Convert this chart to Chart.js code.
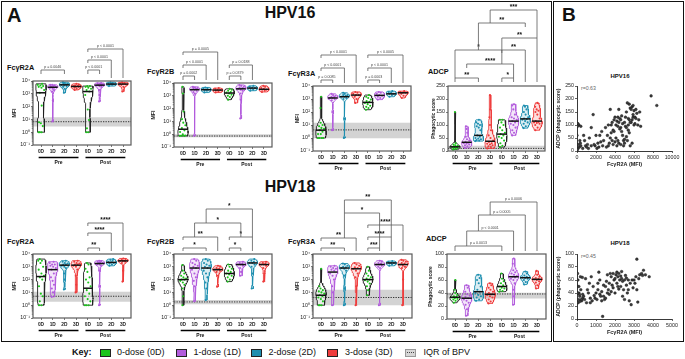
<!DOCTYPE html>
<html><head><meta charset="utf-8">
<script src="https://cdn.jsdelivr.net/npm/chart.js@4.4.0/dist/chart.umd.min.js"></script>
<style>
body{margin:0;width:685px;height:359px;position:relative;background:#fff;overflow:hidden;font-family:'Liberation Sans',Arial,Helvetica,sans-serif;color:#111}
canvas{position:absolute}
.t{position:absolute;line-height:1;white-space:nowrap}
.b{font-weight:bold}
.frame{position:absolute;border:1.5px solid #111;box-sizing:border-box}
.sw{position:absolute;width:11px;height:8px;border:1.3px solid #222;box-sizing:border-box}
</style></head><body>
<div class="frame" style="left:1px;top:1px;width:551px;height:341px"></div>
<div class="frame" style="left:553px;top:1px;width:131px;height:341px"></div>
<div class="t b" style="left:7px;top:5px;font-size:20px">A</div>
<div class="t b" style="left:562px;top:5px;font-size:19px">B</div>
<div class="t b" style="left:240px;top:4.5px;width:100px;text-align:center;font-size:16px">HPV16</div>
<div class="t b" style="left:240px;top:179px;width:100px;text-align:center;font-size:16px">HPV18</div>
<div class="t b" style="left:7px;top:63.5px;font-size:7.3px">FcγR2A</div>
<div class="t b" style="left:147px;top:67.5px;font-size:7.3px">FcγR2B</div>
<div class="t b" style="left:288px;top:69.5px;font-size:7.3px">FcγR3A</div>
<div class="t b" style="left:428px;top:67.5px;font-size:7.3px">ADCP</div>
<div class="t b" style="left:7px;top:237.5px;font-size:7.3px">FcγR2A</div>
<div class="t b" style="left:147px;top:237.5px;font-size:7.3px">FcγR2B</div>
<div class="t b" style="left:288px;top:237.5px;font-size:7.3px">FcγR3A</div>
<div class="t b" style="left:426px;top:234.5px;font-size:7.3px">ADCP</div>
<div class="t b" style="left:590px;top:73px;width:60px;text-align:center;font-size:6px">HPV16</div>
<div class="t b" style="left:590px;top:240px;width:60px;text-align:center;font-size:6px">HPV18</div>
<div class="t" style="left:581px;top:85.5px;font-size:5.2px;color:#666">r=0.63</div>
<div class="t" style="left:581px;top:253.5px;font-size:5.2px;color:#666">r=0.45</div>
<div class="t b" style="left:72px;top:348px;font-size:9px">Key:</div>
<div class="sw" style="left:99.5px;top:348.5px;background:#1bc41b"></div>
<div class="t" style="left:117px;top:348px;font-size:9px">0-dose (0D)</div>
<div class="sw" style="left:176px;top:348.5px;background:#b25cdc"></div>
<div class="t" style="left:193.5px;top:348px;font-size:9px">1-dose (1D)</div>
<div class="sw" style="left:251px;top:348.5px;background:#1e8fb0"></div>
<div class="t" style="left:268.5px;top:348px;font-size:9px">2-dose (2D)</div>
<div class="sw" style="left:326.5px;top:348.5px;background:#ee3b3b"></div>
<div class="t" style="left:345px;top:348px;font-size:9px">3-dose (3D)</div>
<div class="sw" style="left:405px;top:348.5px;background:#d6d6d6;border-color:#999"><div style="position:absolute;left:1px;right:1px;top:2.3px;border-top:1px dotted #444"></div></div>
<div class="t" style="left:423.5px;top:348px;font-size:9px">IQR of BPV</div>

<script>
// ================= DATA =================
const CATS = ['0D','1D','2D','3D','0D','1D','2D','3D'];
const MFI_TICKS = [0.1, 1, 10, 100, 1000, 10000];

// HPV16 - values per group: pre 0D,1D,2D,3D, post 0D,1D,2D,3D
const HPV16_R2A = [
  [1,1,1,3,5,6,120,1200,2000,3000,3500,4000,4500,5000,6000],
  [7,300,1500,2000,2500,3000,3000,3500,3500,4000,4000,4500,5000,5000],
  [1200,2500,3500,4000,4500,5000,5500,6000,6000,7000,8000],
  [2000,2500,3000,3500,3500,4000,4000,4500,5000,6000],
  [1,1,2,9,60,800,1500,2000,2500,3000,3500,4000,4000],
  [250,800,2000,3500,4000,4500,5000,5000,5500,6000,6500,7000],
  [4000,5000,5000,5500,6000,6500,7000,8000],
  [1500,3500,5000,5500,6000,6500,7000,8000]
];
const HPV16_R2A_BPV = [2.8, 6.6, 15];

const HPV16_R2B = [
  [0.75,0.75,0.75,0.8,1,1.5,2,3,5,8,15,60,1500,5000],
  [0.75,1500,2000,2500,3000,3000,3500,4000,4000,4500,5000],
  [1800,2500,2500,3000,3000,3500,4000,4500],
  [1800,2200,2500,2800,3000,3500,4000],
  [500,800,1000,1200,1500,1800,2000,2500,3000,3500],
  [17,500,1500,2500,3000,3500,4000,4500,5000,6000,7000],
  [2500,3000,3500,4000,4500,5000,6000],
  [2000,2500,3000,3000,3500,4000,5000,6000]
];
const HPV16_R2B_BPV = [0.58, 0.72, 1.0];

const HPV16_R3A = [
  [1,1,1,1,2,2,3,4,5,6,8,10,15,200,1500],
  [4,100,800,1000,1200,1200,1500,1500,1800,2000,2500],
  [1,30,1000,1200,1500,1500,1800,2000,2000,2500,3000],
  [500,1000,1500,2000,2000,2500,3000,3500],
  [150,200,250,300,400,500,600,700,900,1200,1500,2000],
  [900,1200,1500,1800,2000,2500,3000,3500],
  [1500,2000,2500,2500,3000,3500,4000],
  [1200,1800,2500,3000,3000,3500,4000]
];
const HPV16_R3A_BPV = [0.95, 4.2, 15];

const HPV16_ADCP = [
  [5,8,10,12,14,15,16,18,20,22,25,30,150],
  [12,18,22,25,28,30,32,35,40,45,55,70,85,95],
  [38,40,42,45,48,50,55,60,80,90,95,100,105,110,120],
  [10,15,18,22,25,28,30,35,40,50,60,80,100,130,160,215],
  [15,20,30,40,50,55,60,65,70,80,90,100,110,120,120],
  [60,70,80,90,100,105,110,115,120,125,130,140,160,175,180],
  [88,95,105,110,115,120,122,125,130,140,150,160,170,175],
  [80,90,100,105,108,110,112,115,125,140,150,155,160,170,185]
];
const HPV16_ADCP_BPV = [5, 10, 20];

// HPV18
const HPV18_R2A = [
  [1,1,2,5,8,30,100,150,200,300,600,1000,2000,3000,3000,4000],
  [4.5,10,20,40,80,150,300,600,800,1000,1200,1500,1500,2000,2500],
  [17,100,300,800,1000,1200,1500,1500,1800,2000,2500,3000],
  [10,40,200,600,1000,1200,1500,1500,1800,2000,2500,3000],
  [1,1,1,2,3,5,8,15,30,60,100,150,400,700,1500,2000],
  [1,30,500,1200,1500,1500,1800,2000,2000,2200,2500,2800,3000],
  [1200,1500,1800,2000,2200,2500,3000,3500,4000],
  [70,500,2000,2500,2800,3000,3000,3500,4000,4500]
];
const HPV18_R2A_BPV = [1.9, 5, 11];

const HPV18_R2B = [
  [1,5,20,40,60,80,100,100,120,150,200,300,500,1400],
  [2,30,80,150,300,600,800,1000,1200,1500,2000,3000,4000],
  [2.5,20,60,150,300,500,800,1000,1200,1500,2000,3000,4000],
  [28,200,400,500,600,600,700,800,1000,1200],
  [70,100,150,200,250,300,400,500,700,1000,1500],
  [200,400,800,1200,1500,1500,1800,2000,2500],
  [20,300,1000,1500,2000,2000,2500,3000,4000],
  [70,300,800,1200,1500,1500,1800,2000,2500]
];
const HPV18_R2B_BPV = [1.2, 1.8, 2.5];

const HPV18_R3A = [
  [1,1,1,2,3,4,5,6,8,10,12,15,20,30,700],
  [1,10,30,100,200,300,500,600,700,800,1000,1200],
  [1,20,200,500,700,800,900,1000,1200,1500,1800],
  [1,30,150,300,500,700,800,900,1200,1500,2000],
  [6,15,30,50,70,90,100,120,150,200,300,500,1000],
  [1,800,1000,1200,1500,1500,1800,2000,2500,3000],
  [1200,1500,1800,2000,2000,2300,2800],
  [1,100,800,1000,1200,1500,1800,2000,2500,3000,3500]
];
const HPV18_R3A_BPV = [1, 4, 16];

const HPV18_ADCP = [
  [25,28,30,31,32,33,34,35,37,40,45,60],
  [5,15,22,25,28,30,32,34,36,38,42,48,52],
  [28,30,33,35,37,40,42,45,50,55,60,63,68],
  [24,27,30,33,35,37,38,40,42,45,48,52,55],
  [42,43,45,47,48,50,52,55,58,62,70],
  [22,35,45,55,60,62,64,65,66,68,70,72,75,85,93],
  [53,57,60,62,63,64,65,67,70,73],
  [47,52,56,58,60,61,62,63,65,68,74]
];
const HPV18_ADCP_BPV = [31.5, 38.5, 40.5];

// Panel B scatter: [FcγR2A MFI, ADCP score]
const HPV16_SCATTER = [
  [100,105],[200,100],[50,95],[300,40],[150,25],[250,15],[100,10],[400,20],[50,5],[350,30],[0,60],
  [400,95],[700,60],[900,20],[1000,15],[1200,10],[800,40],[1100,25],[1300,50],[600,10],[1500,20],
  [1700,140],[1500,90],[1900,20],[2100,10],[2200,30],[2400,60],[2600,75],[2700,20],[2300,15],[2800,40],[2500,35],[2000,60],[1800,25],
  [3000,90],[3200,60],[3300,20],[3400,30],[3500,50],[3500,160],[3600,100],[3700,110],[3800,25],[3900,75],[3100,15],[3700,40],[3300,100],[3800,80],[3900,120],[4000,130],[4000,35],[3600,70],
  [4100,100],[4200,115],[4300,40],[4400,30],[4500,125],[4600,90],[4700,135],[4800,105],[4900,40],[4200,20],[4400,160],[4500,85],[4800,60],[4900,20],[4100,50],[4300,95],[4600,25],[4700,75],[5000,110],[5000,45],[4400,110],[4600,120],[4300,130],
  [5100,95],[5200,150],[5300,185],[5400,125],[5500,180],[5600,165],[5700,110],[5800,170],[5900,140],[5200,55],[5300,40],[5400,100],[5500,120],[5600,20],[5700,160],[5800,120],[5900,175],[6000,155],[5100,130],[5500,70],[5200,90],[5800,30],[5600,110],[5400,80],[5900,130],[5000,30],
  [6100,130],[6200,160],[6300,145],[6400,100],[6500,120],[6600,150],[6100,105],[6700,95],[6200,125],[6000,100],
  [7800,212],[8400,175]
];
const HPV18_SCATTER = [
  [30,70],[50,60],[100,40],[80,30],[150,35],[200,45],[20,50],[250,28],[120,38],[60,25],[300,32],[180,65],[100,50],[40,40],[220,30],[280,64],[150,27],
  [350,35],[400,30],[500,25],[600,40],[700,32],[800,28],[900,36],[450,62],[650,55],[750,65],[550,45],[850,50],[950,32],[1000,40],[300,38],[700,25],
  [1050,30],[1100,45],[1200,38],[1300,42],[1400,35],[1500,50],[1600,40],[1700,55],[1800,65],[1900,48],[1150,72],[1250,35],[1350,4],[1450,30],[1550,58],[1650,45],[1750,70],[1850,52],[1950,60],[1200,60],[1400,52],[1600,68],[1300,28],[1500,32],[1800,42],[1100,55],[1700,38],[1900,70],
  [2000,62],[2050,68],[2100,55],[2150,65],[2200,70],[2250,60],[2300,50],[2350,62],[2400,58],[2450,45],[2500,60],[2550,67],[2600,52],[2650,40],[2700,60],[2750,28],[2800,55],[2850,22],[2900,60],[2950,48],[2100,72],[2200,46],[2300,66],[2400,35],[2500,30],[2600,63],[2700,45],[2000,40],[2150,50],[2350,73],
  [3000,60],[3100,65],[3150,92],[3200,26],[3050,55],[3300,68],[3400,70],[3500,75],[3600,68],[3800,65],[3150,45],[3250,62],[3450,67]
];

// Significance annotations: [from group, to group, label, bracket y, left leg end y, right leg end y] (page px)
const SIG16_R2A = [[0,2,'p = 0.0046',70,74,74],[4,5,'p < 0.0001',70,74,74],[4,6,'p < 0.0001',60,63,78],[4,7,'p < 0.0001',49,52,78]];
const SIG16_R2B = [[0,1,'p = 0.0002',76,80,80],[0,2,'p < 0.0001',65,68,80],[0,3,'p = 0.0005',52,55,80],[4,5,'p = 0.0379',76,80,80],[4,6,'p = 0.0188',65,68,80]];
const SIG16_R3A = [[0,1,'p = 0.0085',80,83,83],[0,2,'p < 0.0001',68,71,83],[0,3,'p < 0.0001',55,58,83],[4,5,'p = 0.0003',80,83,83],[4,6,'p < 0.0001',68,71,83],[4,7,'p < 0.0005',55,58,83]];
const SIG16_ADCP = [[0,2,'**',78,82,82],[4,5,'*',78,82,82],[1,5,'****',64,68,78],[0,4,'*',50,78,64],[4,6,'**',50,53,82],[4,7,'**',38,50,82],[2,6,'**',23,50,27],[3,7,'***',10,23,38]];
const SIG18_R2A = [[4,5,'**',248,251,251],[4,6,'****',233,236,251],[4,7,'****',223,226,251]];
const SIG18_R2B = [[0,2,'*',248,251,251],[0,3,'**',237,240,251],[4,5,'*',248,251,251],[4,6,'*',237,240,251],[1,5,'*',223,237,237],[2,6,'*',209,223,237]];
const SIG18_R3A = [[0,2,'**',248,251,251],[0,3,'**',238,241,251],[4,5,'***',248,251,251],[4,6,'****',237,240,251],[4,7,'****',225,228,251],[2,5,'*',213,238,248],[2,6,'**',200,213,237]];
const SIG18_ADCP = [[0,4,'p = 0.0013',246,251,251],[1,5,'p < 0.0001',231,246,251],[2,6,'p = 0.0005',215,231,251],[3,7,'p = 0.0006',202,215,251]];

// ================= STYLE / LAYOUT =================
const FONT = "'Liberation Sans', Arial, Helvetica, sans-serif";
const DOSE_COLORS = ['#1bc41b','#b25cdc','#1e8fb0','#ee3b3b'];
const SUP = {'-1':'⁻¹','0':'⁰','1':'¹','2':'²','3':'³','4':'⁴'};
const VW = 0.44;
Chart.defaults.font.family = FONT;

function hexA(h,a){const n=parseInt(h.slice(1),16);return `rgba(${n>>16},${(n>>8)&255},${n&255},${a})`;}

function kdeProfile(vals, log, floorH){
  const t = vals.map(v=>log?Math.log10(v):v).sort((a,b)=>a-b);
  const n=t.length, mean=t.reduce((s,x)=>s+x,0)/n;
  const sd=Math.sqrt(t.reduce((s,x)=>s+(x-mean)*(x-mean),0)/Math.max(n-1,1));
  const q=p=>{const i=(n-1)*p,lo=Math.floor(i),hi=Math.ceil(i);return t[lo]+(t[hi]-t[lo])*(i-lo);};
  const iqr=q(0.75)-q(0.25);
  let h=0.9*Math.min(sd, iqr>0?iqr/1.34:sd)*Math.pow(n,-0.2);
  h=Math.max(h,floorH);
  const lo=t[0], hi=t[n-1], N=40, ys=[], ds=[];
  for(let i=0;i<=N;i++){const yy=lo+(hi-lo)*i/N;let d=0;for(const x of t){const z=(yy-x)/h;d+=Math.exp(-0.5*z*z);}ys.push(yy);ds.push(d);}
  const m=Math.max(...ds);
  return {ys, ws:ds.map(d=>d/m), median:q(0.5)};
}
function wAt(p,tv){const n=p.ys.length,lo=p.ys[0],hi=p.ys[n-1];if(hi===lo)return 1;let f=(tv-lo)/(hi-lo)*(n-1);f=Math.max(0,Math.min(n-1,f));const i=Math.floor(f),j=Math.min(n-1,i+1);return p.ws[i]+(p.ws[j]-p.ws[i])*(f-i);}

function makeCanvas(left, top, w, h){
  const cv=document.createElement('canvas');cv.width=w;cv.height=h;
  Object.assign(cv.style,{left:left+'px',top:top+'px',width:w+'px',height:h+'px'});
  document.body.appendChild(cv);return cv;
}

function decoPlugin(cfg){
  return {id:'deco', afterDraw(chart){
    const {ctx, chartArea:a, scales:{x,y}} = chart;
    ctx.save();
    ctx.strokeStyle='#5a5a5a';ctx.lineWidth=1.2;ctx.strokeRect(a.left,a.top,a.right-a.left,a.bottom-a.top);
    if(cfg.log){ctx.strokeStyle='#444';ctx.lineWidth=0.6;ctx.beginPath();
      for(let d=-1;d<4;d++)for(let k=2;k<10;k++){const py=y.getPixelForValue(k*Math.pow(10,d));ctx.moveTo(a.left,py);ctx.lineTo(a.left-1.3,py);}
      ctx.stroke();}
    ctx.strokeStyle='#000';ctx.lineWidth=1.6;ctx.fillStyle='#111';ctx.font=`bold 5px ${FONT}`;ctx.textAlign='center';ctx.textBaseline='middle';
    [[0,3,'Pre'],[4,7,'Post']].forEach(([s,e,txt])=>{const x1=x.getPixelForValue(s-0.2),x2=x.getPixelForValue(e+0.2),ly=a.bottom+12.5;
      ctx.beginPath();ctx.moveTo(x1,ly);ctx.lineTo(x2,ly);ctx.stroke();ctx.fillText(txt,(x1+x2)/2,a.bottom+18);});
    ctx.lineWidth=0.8;ctx.textBaseline='alphabetic';
    cfg.brackets.forEach(([p,q,txt,by,la,lb])=>{
      const xa=x.getPixelForValue(p),xb=x.getPixelForValue(q),Y=by-cfg.top,A=la-cfg.top,B=lb-cfg.top;
      ctx.strokeStyle='#5a5a5a';ctx.beginPath();ctx.moveTo(xa,A);ctx.lineTo(xa,Y);ctx.lineTo(xb,Y);ctx.lineTo(xb,B);ctx.stroke();
      const star=txt.startsWith('*');
      ctx.font=star?`bold 6.5px ${FONT}`:`3.6px ${FONT}`;ctx.fillStyle=star?'#111':'#444';
      ctx.fillText(txt,(xa+xb)/2,star?Y-1.3:Y-1.9);
    });
    ctx.restore();
  }};
}

function violinPanel(data, bpv, L){
  const log=L.log;
  const [l,t,r,b]=L.box;
  const padL=L.padL, padR=4, padT=t-L.canvasTop, padB=24;
  const sp=(L.cat7-L.cat0)/7;
  const xmin=-(L.cat0-l)/sp, xmax=7+(r-L.cat7)/sp;
  const cv=makeCanvas(l-padL, L.canvasTop, r-l+padL+padR, b-t+padT+padB);
  const ds=[];
  ds.push({data:[{x:xmin,y:bpv[2]},{x:xmax,y:bpv[2]}],fill:{value:bpv[0]},backgroundColor:'rgba(150,150,150,0.42)',borderWidth:0,pointRadius:0,order:10});
  ds.push({data:[{x:xmin,y:bpv[1]},{x:xmax,y:bpv[1]}],fill:false,borderColor:'#222',borderWidth:0.9,borderDash:[1.3,1.2],pointRadius:0,order:9});
  data.forEach((vals,g)=>{
    const col=DOSE_COLORS[g%4];
    const zero=(g%4===0);
    const p=kdeProfile(vals,log,log?0.14:L.hFloor);
    const inv=v=>log?Math.pow(10,v):v;
    const poly=[];
    for(let i=0;i<p.ys.length;i++)poly.push({x:g-VW*p.ws[i],y:inv(p.ys[i])});
    for(let i=p.ys.length-1;i>=0;i--)poly.push({x:g+VW*p.ws[i],y:inv(p.ys[i])});
    poly.push({x:poly[0].x,y:poly[0].y});
    ds.push({data:poly,fill:'shape',backgroundColor:zero?'rgba(255,255,255,0.55)':hexA(col,0.16),borderColor:zero?'#1f1f1f':col,borderWidth:0.9,pointRadius:0,tension:0,order:5});
    ds.push({data:vals.map((v,i)=>({x:g+(((i*0.618034)%1)*2-1)*VW*0.7*wAt(p,log?Math.log10(v):v),y:v})),showLine:false,pointRadius:1.05,pointBackgroundColor:col,pointBorderWidth:0,order:3});
    const wm=Math.max(wAt(p,p.median),0.3)*VW;
    ds.push({data:[{x:g-wm,y:inv(p.median)},{x:g+wm,y:inv(p.median)}],fill:false,borderColor:'#111',borderWidth:1.5,pointRadius:0,order:1});
  });
  const tickFont={family:FONT,size:5.3};
  const yScale = log ? {
      type:'logarithmic',min:0.1,max:10000,
      afterBuildTicks:s=>{s.ticks=MFI_TICKS.map(v=>({value:v}));},
      ticks:{callback:v=>'10'+SUP[Math.round(Math.log10(v))],font:tickFont,color:'#222',padding:1}
    } : {
      type:'linear',min:0,max:L.yMax,
      ticks:{stepSize:L.yStep,font:tickFont,color:'#222',padding:1}
    };
  Object.assign(yScale,{
    afterFit:s=>{s.width=padL;},
    grid:{display:true,drawOnChartArea:false,drawTicks:true,tickLength:2,color:'#444',lineWidth:0.7},
    border:{display:false},
    title:{display:true,text:L.yTitle,color:'#222',font:{family:FONT,size:L.yTitleSize,weight:'bold'},padding:{top:L.titleX-(l-padL)-L.yTitleSize*0.6,bottom:0}}
  });
  new Chart(cv,{
    type:'line',
    data:{datasets:ds},
    options:{
      responsive:false,animation:false,events:[],
      layout:{padding:{left:0,right:padR,top:padT,bottom:0}},
      plugins:{legend:{display:false},tooltip:{enabled:false}},
      scales:{
        x:{type:'linear',min:xmin,max:xmax,
          afterBuildTicks:s=>{s.ticks=CATS.map((c,i)=>({value:i}));},
          afterFit:s=>{s.height=padB;},
          ticks:{callback:v=>CATS[v]||'',font:{family:FONT,size:4.8,weight:'bold'},color:'#222',padding:1.5,autoSkip:false,maxRotation:0},
          grid:{display:true,drawOnChartArea:false,drawTicks:true,tickLength:2,color:'#444',lineWidth:0.7},
          border:{display:false}},
        y:yScale
      }
    },
    plugins:[decoPlugin({log,brackets:L.brackets,top:L.canvasTop})]
  });
}

function scatterPanel(points, L){
  const [l,t,r,b]=L.box;
  const padL=24,padR=10,padT=6,padB=18;
  const cv=makeCanvas(l-padL,t-padT,r-l+padL+padR,b-t+padT+padB);
  const tickFont={family:FONT,size:5.3};
  new Chart(cv,{
    type:'scatter',
    data:{datasets:[{data:points.map(([x,y])=>({x,y})),pointRadius:1.35,backgroundColor:'#3c3c3c',borderColor:'#111',borderWidth:0.4}]},
    options:{
      responsive:false,animation:false,events:[],
      layout:{padding:{left:0,right:padR,top:padT,bottom:0}},
      plugins:{legend:{display:false},tooltip:{enabled:false}},
      scales:{
        x:{type:'linear',min:0,max:L.xMax,afterFit:s=>{s.height=padB;},
          ticks:{stepSize:L.xStep,font:tickFont,color:'#222',padding:1,maxRotation:0,autoSkip:false,callback:v=>String(v)},
          grid:{display:true,drawOnChartArea:false,tickLength:2,color:'#222',lineWidth:0.7},
          border:{display:true,color:'#222',width:0.9},
          title:{display:true,text:'FcγR2A (MFI)',color:'#222',font:{family:FONT,size:5.5,weight:'bold'},padding:{top:0,bottom:1}}},
        y:{type:'linear',min:0,max:L.yMax,afterFit:s=>{s.width=padL;},
          ticks:{stepSize:L.yStep,font:tickFont,color:'#222',padding:1,autoSkip:false,callback:v=>String(v)},
          grid:{display:true,drawOnChartArea:false,tickLength:2,color:'#222',lineWidth:0.7},
          border:{display:true,color:'#222',width:0.9},
          title:{display:true,text:'ADCP (phagocytic score)',color:'#222',font:{family:FONT,size:5,weight:'bold'},padding:{top:3,bottom:0}}}
      }
    }
  });
}

const LOGP = {log:true,yTitle:'MFI',yTitleSize:5.2,padL:26};
const ADCPP = {log:false,yTitle:'Phagocytic score',yTitleSize:4.9,padL:22};

violinPanel(HPV16_R2A, HPV16_R2A_BPV, {...LOGP,box:[33,81,131,145],cat0:41,cat7:123,canvasTop:1,titleX:15,brackets:SIG16_R2A});
violinPanel(HPV16_R2B, HPV16_R2B_BPV, {...LOGP,box:[174,83,272,147],cat0:183,cat7:264,canvasTop:1,titleX:154,brackets:SIG16_R2B});
violinPanel(HPV16_R3A, HPV16_R3A_BPV, {...LOGP,box:[313,86,411,151],cat0:321,cat7:403,canvasTop:1,titleX:298,brackets:SIG16_R3A});
violinPanel(HPV16_ADCP, HPV16_ADCP_BPV, {...ADCPP,box:[448,86,545,151],cat0:455,cat7:537,canvasTop:1,titleX:434,yMax:250,yStep:50,hFloor:6,brackets:SIG16_ADCP});
violinPanel(HPV18_R2A, HPV18_R2A_BPV, {...LOGP,box:[33,254,131,318],cat0:41,cat7:123,canvasTop:190,titleX:15,brackets:SIG18_R2A});
violinPanel(HPV18_R2B, HPV18_R2B_BPV, {...LOGP,box:[174,254,272,318],cat0:183,cat7:264,canvasTop:190,titleX:154,brackets:SIG18_R2B});
violinPanel(HPV18_R3A, HPV18_R3A_BPV, {...LOGP,box:[313,254,412,318],cat0:321,cat7:403,canvasTop:190,titleX:298,brackets:SIG18_R3A});
violinPanel(HPV18_ADCP, HPV18_ADCP_BPV, {...ADCPP,box:[447,254,546,319],cat0:455,cat7:537,canvasTop:190,titleX:431,yMax:100,yStep:20,hFloor:2.5,brackets:SIG18_ADCP});

scatterPanel(HPV16_SCATTER,{box:[577,86,672,151],xMax:10000,xStep:2000,yMax:250,yStep:50});
scatterPanel(HPV18_SCATTER,{box:[577,254,672,319],xMax:5000,xStep:1000,yMax:100,yStep:20});
</script>
</body></html>
